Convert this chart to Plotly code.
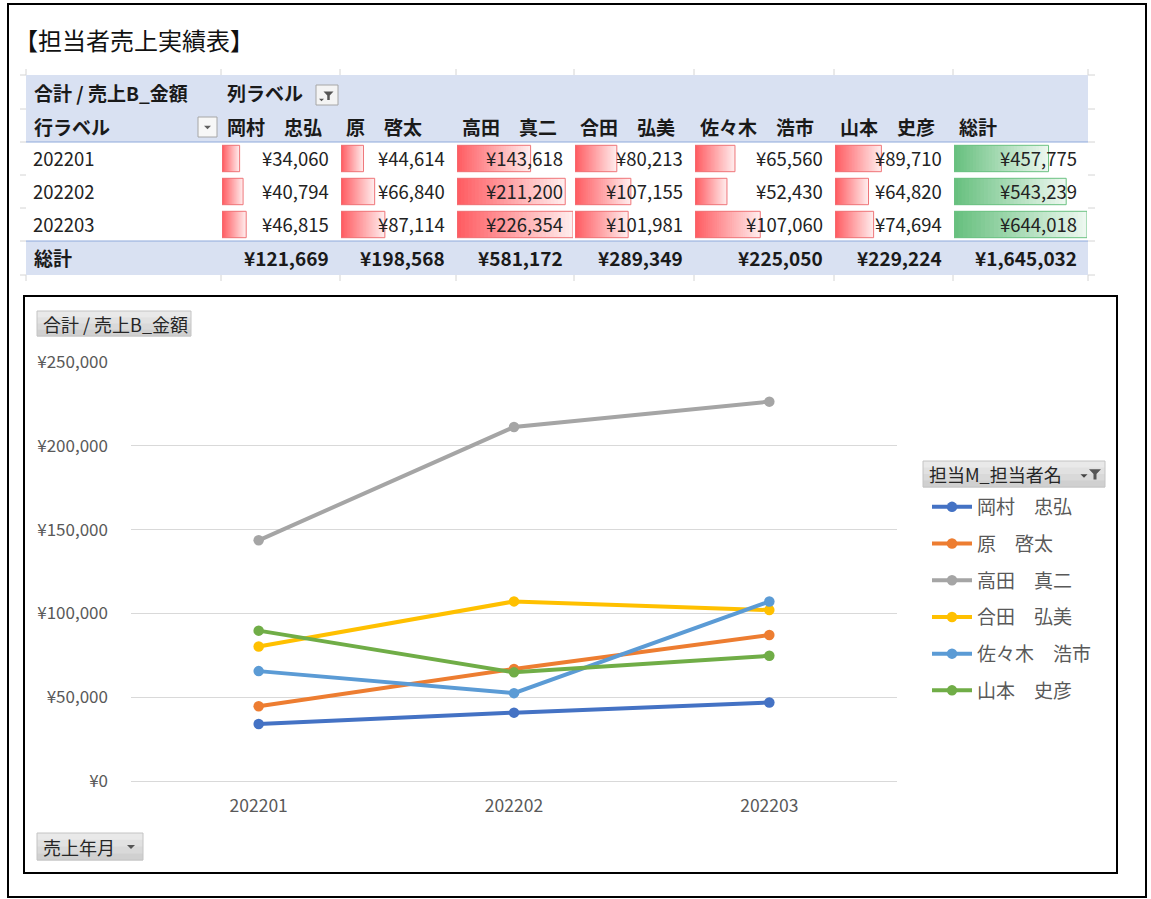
import plotly.graph_objects as go

W, H = 1151, 899

# ---------------- data ----------------
months = ["202201", "202202", "202203"]
names = ["岡村　忠弘", "原　啓太", "高田　真二", "合田　弘美", "佐々木　浩市", "山本　史彦"]
okamura = [34060, 40794, 46815]
hara = [44614, 66840, 87114]
takada = [143618, 211200, 226354]
goda = [80213, 107155, 101981]
sasaki = [65560, 52430, 107060]
yamamoto = [89710, 64820, 74694]
series = [okamura, hara, takada, goda, sasaki, yamamoto]
line_colors = ["#4472C4", "#ED7D31", "#A5A5A5", "#FFC000", "#5B9BD5", "#70AD47"]

row_totals = [sum(s[i] for s in series) for i in range(len(months))]
col_totals = [sum(s) for s in series]
grand_total = sum(row_totals)

FONT = "Noto Sans CJK JP, Noto Sans, sans-serif"


def X(px):
    return px / W


def Y(py):
    return 1 - py / H


def yen(v):
    return "¥{:,}".format(v)


fig = go.Figure()
shapes = []
annotations = []


def rect(x0, y0, x1, y1, fill=None, line=None, lw=1, layer="below"):
    shapes.append(dict(type="rect", xref="paper", yref="paper",
                       x0=X(x0), x1=X(x1), y0=Y(y1), y1=Y(y0),
                       fillcolor=fill if fill else "rgba(0,0,0,0)",
                       line=dict(color=line if line else "rgba(0,0,0,0)", width=lw if line else 0),
                       layer=layer))


def hline(x0, x1, y, color, lw=1, layer="below"):
    shapes.append(dict(type="line", xref="paper", yref="paper",
                       x0=X(x0), x1=X(x1), y0=Y(y), y1=Y(y),
                       line=dict(color=color, width=lw), layer=layer))


def vline(x, y0, y1, color, lw=1, layer="below"):
    shapes.append(dict(type="line", xref="paper", yref="paper",
                       x0=X(x), x1=X(x), y0=Y(y0), y1=Y(y1),
                       line=dict(color=color, width=lw), layer=layer))


def text(x, y, s, size=16, color="#1a1a1a", anchor="left", bold=False):
    annotations.append(dict(xref="paper", yref="paper", x=X(x), y=Y(y), text=s,
                            showarrow=False, xanchor=anchor, yanchor="middle",
                            font=dict(family=FONT, size=size, color=color,
                                      weight="bold" if bold else "normal")))


def funnel(cx, cy, s, color):
    pts = [(cx - s, cy - s * 0.8), (cx + s, cy - s * 0.8), (cx + s * 0.25, cy),
           (cx + s * 0.25, cy + s * 0.9), (cx - s * 0.25, cy + s * 0.9), (cx - s * 0.25, cy)]
    path = "M " + " L ".join("{:.5f},{:.5f}".format(X(a), Y(b)) for a, b in pts) + " Z"
    shapes.append(dict(type="path", xref="paper", yref="paper", path=path,
                       fillcolor=color, line=dict(width=0), layer="above"))


def tri(cx, cy, s, color):
    pts = [(cx - s, cy - s * 0.5), (cx + s, cy - s * 0.5), (cx, cy + s * 0.5)]
    path = "M " + " L ".join("{:.5f},{:.5f}".format(X(a), Y(b)) for a, b in pts) + " Z"
    shapes.append(dict(type="path", xref="paper", yref="paper", path=path,
                       fillcolor=color, line=dict(width=0), layer="above"))


def button(x0, y0, x1, y1):
    bands = ["#E9E9E9", "#E1E1E1", "#D9D9D9", "#D0D0D0"]
    h = (y1 - y0) / len(bands)
    for i, c in enumerate(bands):
        rect(x0, y0 + i * h, x1, y0 + (i + 1) * h + 0.5, fill=c)
    rect(x0, y0, x1, y1, line="#C4C4C4", lw=1)


# ---------------- borders ----------------
rect(8, 4, 1146, 897, line="#000000", lw=2, layer="above")
rect(24, 296, 1117, 873, line="#000000", lw=2, layer="above")

# ---------------- pivot table ----------------
col_edges = [26, 221, 340, 456, 574, 694, 834, 953, 1088]
row_edges = [75, 109, 142, 175, 208, 241, 275]

rect(26, 75, 1088, 142, fill="#D9E1F2")
rect(26, 241, 1088, 275, fill="#D9E1F2")
hline(26, 1088, 142, "#8EA9DB", 1)
hline(26, 1088, 241, "#8EA9DB", 1)
# faint sheet gridlines sticking out of the table
for xe in col_edges:
    vline(xe, 69, 75, "#D4D4D4")
    vline(xe, 275, 281, "#D4D4D4")
for ye in row_edges:
    hline(1088, 1095, ye, "#D4D4D4")
    hline(20, 26, ye, "#D4D4D4")

HB = 19  # header bold size
VS = 18.5  # value size
text(12, 40, "【担当者売上実績表】", size=24, color="#111111")
text(32, 92, "合計 / 売上B_金額", size=HB, bold=True)
text(225, 92, "列ラベル", size=HB, bold=True)
rect(316, 85, 338, 105, fill="#F4F4F4", line="#A6A6A6")
funnel(328.5, 95.5, 5, "#555555")
tri(321.5, 100, 2.5, "#555555")
text(32, 126, "行ラベル", size=HB, bold=True)
rect(198, 117, 217, 137, fill="#F7F7F7", line="#A6A6A6")
tri(207.5, 127.5, 3.5, "#606060")

headers = names + ["総計"]
for k, hname in enumerate(headers):
    text(col_edges[k + 1] + 4, 126, hname, size=HB, bold=True)

row_y = [158, 191, 224]
for i, m in enumerate(months):
    text(31, row_y[i], m, size=VS, color="#222222")
    for k, s in enumerate(series):
        text(col_edges[k + 2] - 9, row_y[i], yen(s[i]), size=VS, color="#222222", anchor="right")
    text(col_edges[8] - 9, row_y[i], yen(row_totals[i]), size=VS, color="#222222", anchor="right")

text(32, 258, "総計", size=HB, bold=True)
for k in range(len(series)):
    text(col_edges[k + 2] - 9, 258, yen(col_totals[k]), size=HB, anchor="right", bold=True)
text(col_edges[8] - 9, 258, yen(grand_total), size=HB, anchor="right", bold=True)

# data bars: one hidden x axis per column, sharing a hidden row axis
person_max = max(max(s) for s in series)
total_max = max(row_totals)
N = 30


def lerp(c0, c1, t):
    return "rgb({},{},{})".format(*[int(round(a + (b - a) * t)) for a, b in zip(c0, c1)])


bar_cols = series + [row_totals]
layout_axes = {}
for k, vals in enumerate(bar_cols):
    ax = k + 2
    is_total = (k == len(series))
    vmax = total_max if is_total else person_max
    c0 = (99, 190, 123) if is_total else (255, 88, 94)
    c1 = (236, 247, 239) if is_total else (255, 236, 236)
    border = "#6CC283" if is_total else "#EF7579"
    layout_axes["xaxis%d" % ax] = dict(domain=[X(col_edges[k + 1] + 1), X(col_edges[k + 2] - 1)],
                                       range=[0, vmax], visible=False, anchor="y2", fixedrange=True)
    # longest (lightest) first, progressively shorter and darker on top
    for j in range(N):
        frac = (N - j) / N
        fig.add_trace(go.Bar(
            y=months, x=[v * frac for v in vals], base=[0] * len(vals),
            orientation="h", width=0.8, xaxis="x%d" % ax, yaxis="y2",
            marker=dict(color=lerp(c0, c1, frac), line=dict(width=0)),
            showlegend=False, hoverinfo="skip"))
    fig.add_trace(go.Bar(
        y=months, x=vals, base=[0] * len(vals), orientation="h", width=0.8,
        xaxis="x%d" % ax, yaxis="y2",
        marker=dict(color="rgba(0,0,0,0)", line=dict(color=border, width=1)),
        showlegend=False, hoverinfo="skip"))

# ---------------- line chart ----------------
for i, (nm, s) in enumerate(zip(names, series)):
    fig.add_trace(go.Scatter(
        x=months, y=s, name=nm, mode="lines+markers", legendgroup=str(i),
        line=dict(color=line_colors[i], width=4),
        marker=dict(color=line_colors[i], size=10.5),
        xaxis="x", yaxis="y"))

BS = 18
button(37, 311, 191, 336)
text(41, 323.5, "合計 / 売上B_金額", size=BS, color="#262626")
button(37, 833, 143, 860)
text(41, 846.5, "売上年月", size=BS, color="#262626")
tri(131, 847, 4, "#555555")
button(923, 461, 1105, 487)
text(927, 474, "担当M_担当者名", size=BS, color="#262626")
tri(1084, 476, 3.5, "#444444")
funnel(1095, 474, 6, "#555555")

fig.update_layout(
    width=W, height=H, autosize=False,
    margin=dict(l=0, r=0, t=0, b=0, pad=0, autoexpand=False),
    paper_bgcolor="white", plot_bgcolor="rgba(0,0,0,0)",
    barmode="overlay",
    font=dict(family=FONT, color="#595959"),
    shapes=shapes, annotations=annotations,
    xaxis=dict(domain=[X(131), X(897)], type="category", range=[-0.5, 2.5],
               showgrid=False, zeroline=False, showline=False, ticks="",
               tickfont=dict(size=17.5, color="#595959"), ticklabelstandoff=12,
               anchor="y", fixedrange=True),
    yaxis=dict(domain=[Y(781), Y(362)], range=[0, 250000], dtick=50000,
               tickprefix="¥", tickformat=",d", showgrid=True, gridcolor="#D9D9D9",
               gridwidth=1, zeroline=True, zerolinecolor="#D9D9D9", zerolinewidth=1,
               showline=False, ticks="", tickfont=dict(size=17, color="#595959"),
               ticklabelstandoff=22, anchor="x", fixedrange=True),
    yaxis2=dict(domain=[Y(241), Y(142)], type="category", range=[2.5, -0.5],
                visible=False, anchor="free", position=0, fixedrange=True),
    legend=dict(x=X(927), y=Y(488), xanchor="left", yanchor="top",
                font=dict(size=19, color="#595959", family=FONT),
                bgcolor="rgba(0,0,0,0)", traceorder="grouped",
                tracegroupgap=9, itemwidth=40),
    showlegend=True,
    **layout_axes,
)

fig.write_html("out.html", include_plotlyjs=True, config={"displayModeBar": False},
               post_script="document.body.style.margin='0';document.body.style.overflow='hidden';")
